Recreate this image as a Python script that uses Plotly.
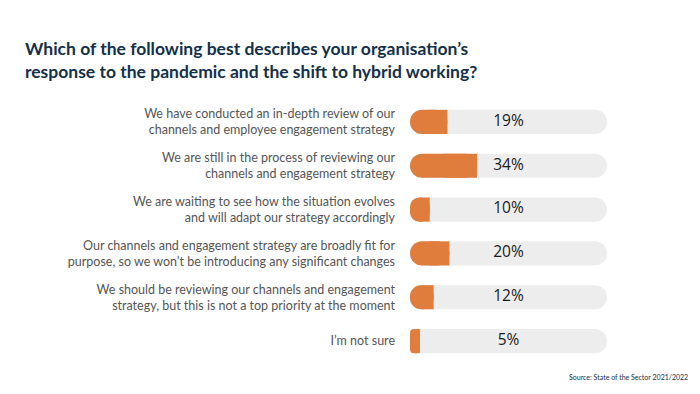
import plotly.graph_objects as go

title = "Which of the following best describes your organisation’s<br>response to the pandemic and the shift to hybrid working?"
categories = [
    "We have conducted an in-depth review of our<br>channels and employee engagement strategy",
    "We are still in the process of reviewing our<br>channels and engagement strategy",
    "We are waiting to see how the situation evolves<br>and will adapt our strategy accordingly",
    "Our channels and engagement strategy are broadly fit for<br>purpose, so we won’t be introducing any significant changes",
    "We should be reviewing our channels and engagement<br>strategy, but this is not a top priority at the moment",
    "I’m not sure",
]
values = [19, 34, 10, 20, 12, 5]
total = 100
labels = [f"{v}%" for v in values]
source = "Source: State of the Sector 2021/2022"

ORANGE = "#E07D3C"
GREY = "#EDEDED"
NAVY = "#14304A"
FONT = "Lato, 'Open Sans', sans-serif"
n = len(values)

fig = go.Figure()
# background pill (explicit base -> both ends rounded)
fig.add_trace(go.Bar(
    y=categories, x=[total] * n, base=[0] * n, orientation="h", width=0.55,
    marker=dict(color=GREY, cornerradius=12, line_width=0), hoverinfo="skip",
))
# orange value bar (rounded both ends)
fig.add_trace(go.Bar(
    y=categories, x=values, base=[0] * n, orientation="h", width=0.55,
    marker=dict(color=ORANGE, cornerradius=12, line_width=0), hoverinfo="skip",
))
# square right half of the orange bar
fig.add_trace(go.Bar(
    y=categories, x=[v / 2 for v in values], base=[v / 2 for v in values],
    orientation="h", width=0.55,
    marker=dict(color=ORANGE, cornerradius=0, line_width=0), hoverinfo="skip",
))
# value labels centred on the pill
fig.add_trace(go.Scatter(
    y=categories, x=[total / 2] * n, mode="text", text=labels,
    textposition="middle center",
    textfont=dict(color="#1a1a1a", size=15.5, family="'Open Sans', sans-serif"),
    hoverinfo="skip",
))

fig.update_layout(
    width=700, height=394,
    barmode="overlay",
    paper_bgcolor="white", plot_bgcolor="white",
    margin=dict(l=410, r=93, t=100, b=31),
    showlegend=False,
    font=dict(family=FONT),
    title=dict(
        text=f"<b>{title}</b>", x=25 / 700, xanchor="left", y=1 - 55 / 394, yanchor="top",
        font=dict(size=17.5, color=NAVY, family=FONT),
    ),
    xaxis=dict(range=[0, 100], visible=False, fixedrange=True),
    yaxis=dict(
        autorange="reversed", showgrid=False, zeroline=False, showline=False,
        ticks="", ticklabelstandoff=14, fixedrange=True,
        tickfont=dict(size=12.5, color="#555555", family=FONT),
    ),
    annotations=[dict(
        text=source, xref="paper", yref="paper", x=(690 - 410) / 197, xanchor="right",
        y=-14 / 263, yanchor="middle", showarrow=False,
        font=dict(size=7, color=NAVY, family=FONT),
    )],
)

fig.write_html("out.html", config={"displayModeBar": False},
               post_script="document.body.style.margin='0';")
